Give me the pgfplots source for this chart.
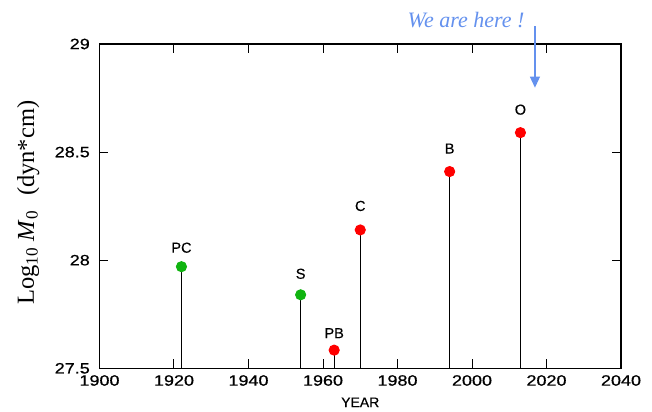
\documentclass[border=0pt]{standalone}
\usepackage{fontspec}
\setmainfont{Liberation Serif}
\setsansfont{Liberation Sans}
\newfontfamily\tickfont{Liberation Sans}[FakeStretch=1.2, FakeBold=0.6]
\newfontfamily\labfont{Liberation Sans}[FakeBold=0.4]
\usepackage{pgfplots}
\pgfplotsset{compat=1.18}
\usepackage{pgfplotstable}
\usetikzlibrary{arrows.meta}

\definecolor{quakered}{RGB}{255,0,0}
\definecolor{quakegreen}{RGB}{16,180,16}
\definecolor{hereblue}{RGB}{100,145,238}

% year, log10 of seismic moment, label, label offset (bp)
\pgfplotstableread{
year m0 lab dy
1922 27.97 PC 19
1954 27.84 S 21
}\greentab
\pgfplotstableread{
year m0 lab dy
1963 27.584 PB 17
1970 28.14 C 24
1994 28.41 B 23
2013 28.59 O 23
}\redtab

\begin{document}
\begin{tikzpicture}
\useasboundingbox (-99.5bp,-43.7bp) rectangle (552.5bp,368.3bp);
\begin{axis}[
  at={(0,0)}, anchor=south west, scale only axis,
  width=521.5bp, height=324.3bp,
  xmin=1900, xmax=2040, ymin=27.5, ymax=29,
  xtick={1900,1920,...,2040}, ytick={27.5,28,28.5,29},
  /pgf/number format/1000 sep={},
  /pgf/number format/assume math mode=true,
  tick label style={font=\tickfont\fontsize{15bp}{18bp}\selectfont},
  xticklabel style={anchor=north, inner sep=0pt, yshift=-6.7bp},
  yticklabel style={anchor=east, inner sep=0pt, xshift=-9.5bp},
  major tick length=9bp, minor tick num=0,
  tick style={black, line width=1bp},
  axis line style={line width=1.1bp},
  xlabel={YEAR},
  xlabel style={at={(axis description cs:0.5,-0.105)}, anchor=center,
    font=\labfont\fontsize{14bp}{16bp}\selectfont},
  ylabel={Log\textsubscript{10} \textit{M}\textsubscript{0}\hspace{0.6em}(dyn*cm)},
  ylabel style={at={(axis description cs:-0.1256,0.511)}, anchor=base,
    font=\fontsize{24.5bp}{28bp}\selectfont},
  clip mode=individual,
  every axis plot/.append style={ycomb, black, line width=1.1bp},
  nodes near coords,
  point meta=explicit symbolic,
  visualization depends on={\thisrow{dy} \as \labdy},
  every node near coord/.append style={anchor=center, yshift={\labdy*1bp},
    black, font=\labfont\fontsize{14.5bp}{16bp}\selectfont},
]
\addplot[mark=*, mark size=5bp, mark options={draw=quakegreen, fill=quakegreen}]
  table[x=year, y=m0, meta=lab] {\greentab};
\addplot[mark=*, mark size=5bp, mark options={draw=quakered, fill=quakered}]
  table[x=year, y=m0, meta=lab] {\redtab};

\draw[hereblue, line width=1.1bp, -{Triangle[width=10bp,length=11bp]}]
  (axis cs:2016.9,29.083) -- (axis cs:2016.9,28.798);
\node[hereblue, font=\itshape\fontsize{22bp}{24bp}\selectfont]
  at (axis cs:1998.4,29.111) {We are here !};
\end{axis}
\end{tikzpicture}
\end{document}
